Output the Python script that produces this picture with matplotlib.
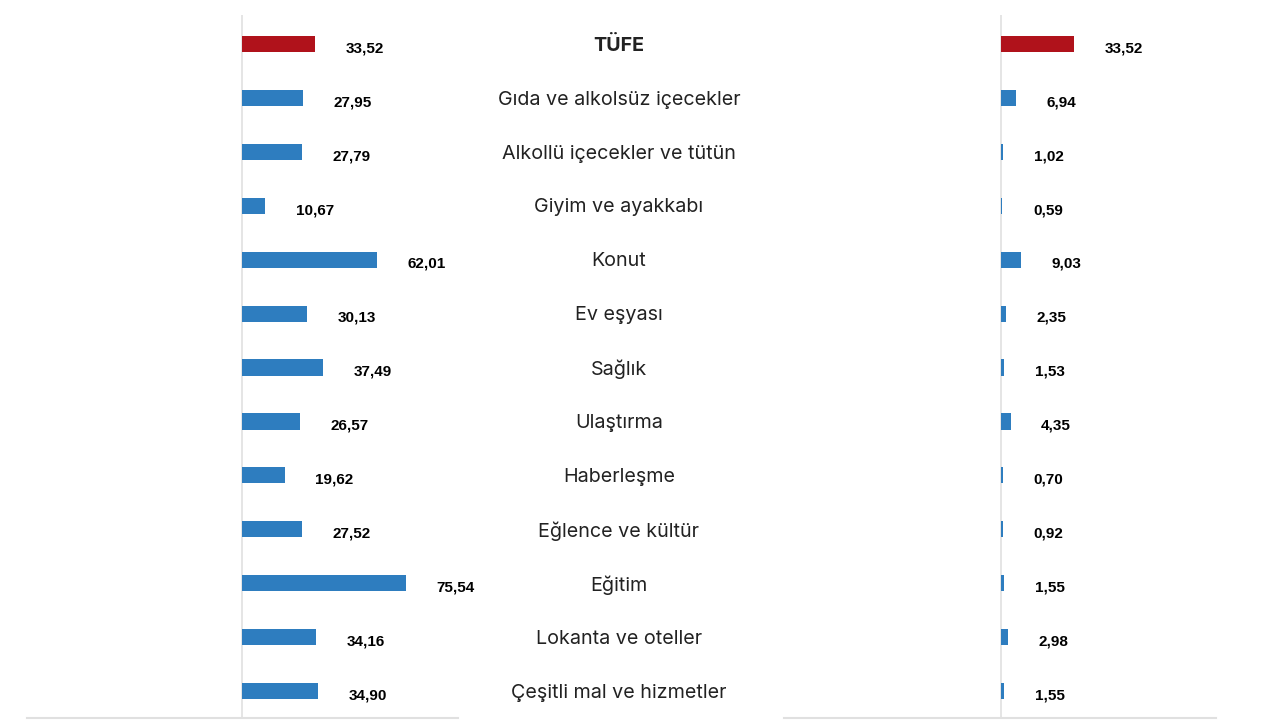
import matplotlib
matplotlib.use("Agg")
import matplotlib.pyplot as plt
from matplotlib.transforms import blended_transform_factory

# veriler
categories = [
    "TÜFE",
    "Gıda ve alkolsüz içecekler",
    "Alkollü içecekler ve tütün",
    "Giyim ve ayakkabı",
    "Konut",
    "Ev eşyası",
    "Sağlık",
    "Ulaştırma",
    "Haberleşme",
    "Eğlence ve kültür",
    "Eğitim",
    "Lokanta ve oteller",
    "Çeşitli mal ve hizmetler",
]
annual_change = [33.52, 27.95, 27.79, 10.67, 62.01, 30.13, 37.49, 26.57, 19.62, 27.52, 75.54, 34.16, 34.90]
contribution = [33.52, 6.94, 1.02, 0.59, 9.03, 2.35, 1.53, 4.35, 0.70, 0.92, 1.55, 2.98, 1.55]

RED = "#b0121b"
BLUE = "#2e7dbf"
GRID = "#e0e0e0"
TEXT = "#222222"

W, H = 1280, 720
fig = plt.figure(figsize=(12.8, 7.2), dpi=100)
fig.patch.set_facecolor("white")


def px_axes(x0, x1, y_top, y_bot):
    return fig.add_axes([x0 / W, (H - y_bot) / H, (x1 - x0) / W, (y_bot - y_top) / H])


def fmt(v):
    return f"{v:.2f}".replace(".", ",")


def draw_panel(ax, values, xlim):
    ys = list(range(len(values)))
    colors = [RED] + [BLUE] * (len(values) - 1)
    ax.barh(ys, values, height=0.3, color=colors, zorder=3)
    for y, v in zip(ys, values):
        ax.annotate(fmt(v), (v, y), xytext=(22, -3), textcoords="offset points",
                    ha="left", va="center", fontsize=11, fontweight="bold",
                    family="Liberation Sans", color="black")
    ax.axvline(0, color=GRID, lw=1.2, zorder=1)
    ax.set_xlim(*xlim)
    ax.set_ylim(12.5, -0.54)
    for s in ["top", "left", "right"]:
        ax.spines[s].set_visible(False)
    ax.spines["bottom"].set_color(GRID)
    ax.spines["bottom"].set_linewidth(1.5)
    ax.set_xticks([])
    ax.set_yticks([])
    ax.patch.set_alpha(0)


ax_left = px_axes(27, 458, 15, 718)
draw_panel(ax_left, annual_change, (-99, 99.5))

ax_right = px_axes(784, 1216, 15, 718)
draw_panel(ax_right, contribution, (-100, 99))

# kategori etiketleri ortada
tr = blended_transform_factory(fig.transFigure, ax_left.transData)
for i, name in enumerate(categories):
    fig.text(619 / W, i + 0.03, name, transform=tr, ha="center", va="center",
             fontsize=14.2, family=["Inter", "DejaVu Sans"], color=TEXT,
             fontweight="bold" if i == 0 else "normal")

fig.savefig("out.png", dpi=100, facecolor="white")
